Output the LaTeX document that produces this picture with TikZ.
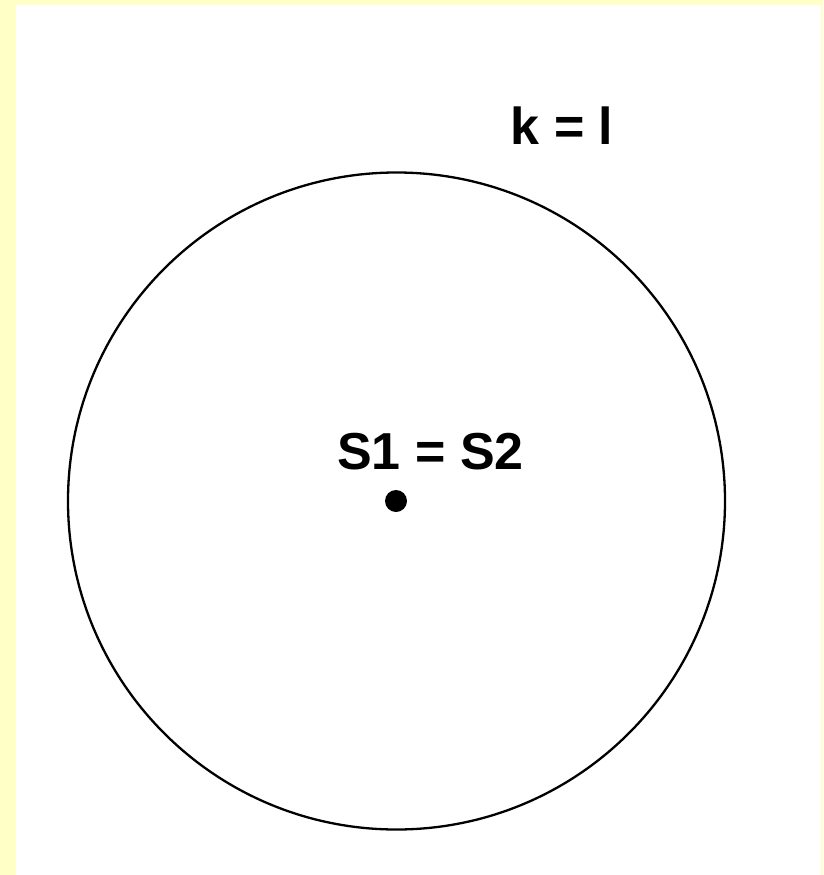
\documentclass[tikz,border=0pt]{standalone}
\usepackage{fontspec}
\setmainfont{Liberation Sans}
\definecolor{bgyellow}{HTML}{FFFFC6}
\tikzset{lbl/.style={font=\fontsize{52}{62}\selectfont\bfseries, inner sep=0pt}}
\begin{document}
\begin{tikzpicture}[x=1pt,y=-1pt]
\useasboundingbox (0,0) rectangle (823,875);
\fill[bgyellow] (0,0) rectangle (823,875);
\fill[white] (16,5) rectangle (821,875);
\node[draw, circle, line width=2.3pt, minimum size=657pt, inner sep=0pt] (c) at (396.5,501) {};
\node[fill=black, circle, minimum size=22pt, inner sep=0pt] (dot) at (396,501) {};
\node[lbl] (s) at (430.5,452) {S1 = S2};
\node[lbl] (k) at (562,126) {k = l};
\end{tikzpicture}
\end{document}
